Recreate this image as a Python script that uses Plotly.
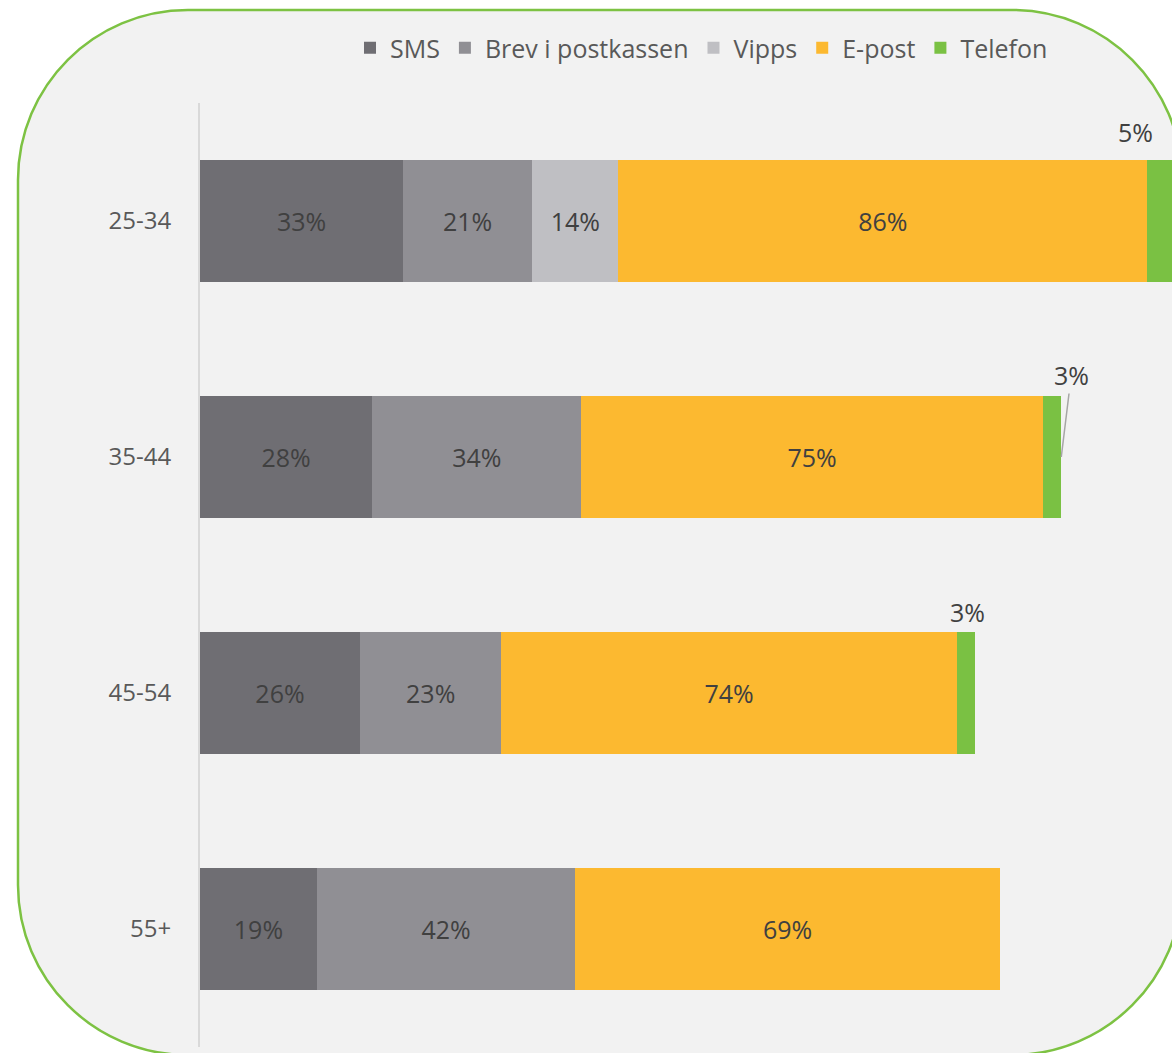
import plotly.graph_objects as go

# ---- data ----
age_groups = ["25-34", "35-44", "45-54", "55+"]
series_names = ["SMS", "Brev i postkassen", "Vipps", "E-post", "Telefon"]
sms = [33, 28, 26, 19]
brev = [21, 34, 23, 42]
vipps = [14, None, None, None]
epost = [86, 75, 74, 69]
telefon = [5, 3, 3, None]
colors = ["#6f6e73", "#908f94", "#bfbfc3", "#fcb930", "#7ac143"]

W, H = 1172, 1053
ML, MR, MT, MB = 200, 0, 103, 6
XMAX = 158

fig = go.Figure()
all_series = [sms, brev, vipps, epost, telefon]
for name, vals, col in zip(series_names, all_series, colors):
    show_inside = name != "Telefon"
    fig.add_trace(go.Bar(
        y=age_groups, x=vals, name=name, orientation="h",
        marker=dict(color=col, line=dict(width=0)),
        text=[(f"{v}%" if (v is not None and show_inside) else "") for v in vals],
        textposition="inside", insidetextanchor="middle",
        insidetextfont=dict(color="#404040", size=25, family="Open Sans"),
        textangle=0,
        hoverinfo="x+y+name",
    ))

# labels for the small Telefon segments (outside bars)
font_lbl = dict(color="#404040", size=25, family="Open Sans")
starts = [sum(v or 0 for v in (a, b, c, d)) for a, b, c, d in zip(sms, brev, vipps, epost)]
# 25-34
fig.add_annotation(x=starts[0] + telefon[0] / 2, y=age_groups[0], text=f"{telefon[0]}%",
                   showarrow=False, font=font_lbl, xshift=-27, yshift=89)
# 35-44 with leader line
fig.add_annotation(x=starts[1] + telefon[1], y=age_groups[1], text=f"{telefon[1]}%",
                   showarrow=True, arrowhead=0, arrowwidth=1.5, arrowcolor="#a6a6a6",
                   ax=10, ay=-82, font=font_lbl, standoff=0)
# 45-54
fig.add_annotation(x=starts[2] + telefon[2] / 2, y=age_groups[2], text=f"{telefon[2]}%",
                   showarrow=False, font=font_lbl, xshift=2, yshift=81)

# rounded background panel (pixel -> paper helper)
PW, PH = W - ML - MR, H - MT - MB
def px(X):
    return (X - ML) / PW
def py(Y):
    return (H - MB - Y) / PH

L, T, R, B, RAD = 18, 10, 1182, 1055, 170
k = 0.5523 * RAD
pts = [
    ("M", [(L, T + RAD)]),
    ("C", [(L, T + RAD - k), (L + RAD - k, T), (L + RAD, T)]),
    ("L", [(R - RAD, T)]),
    ("C", [(R - RAD + k, T), (R, T + RAD - k), (R, T + RAD)]),
    ("L", [(R, B - RAD)]),
    ("C", [(R, B - RAD + k), (R - RAD + k, B), (R - RAD, B)]),
    ("L", [(L + RAD, B)]),
    ("C", [(L + RAD - k, B), (L, B - RAD + k), (L, B - RAD)]),
]
path = ""
for cmd, cps in pts:
    path += cmd + " ".join(f"{px(x):.5f},{py(y):.5f}" for x, y in cps) + " "
path += "Z"
fig.add_shape(type="path", path=path, xref="paper", yref="paper",
              fillcolor="#f2f2f2", line=dict(color="#7dc243", width=2.5), layer="below")

fig.update_layout(
    width=W, height=H,
    margin=dict(l=ML, r=MR, t=MT, b=MB, pad=0),
    barmode="stack", bargap=0.487,
    paper_bgcolor="white", plot_bgcolor="rgba(0,0,0,0)",
    font=dict(family="Open Sans", color="#595959"),
    showlegend=True,
    legend=dict(orientation="h", x=px(350), xanchor="left", y=py(48), yanchor="middle",
                font=dict(size=25, color="#595959", family="Open Sans"),
                traceorder="normal", bgcolor="rgba(0,0,0,0)"),
    xaxis=dict(range=[0, XMAX], visible=False, fixedrange=True),
    yaxis=dict(autorange="reversed", showline=True, linecolor="#d9d9d9", linewidth=2,
               showgrid=False, zeroline=False, ticks="",
               tickfont=dict(size=24, color="#595959", family="Open Sans"),
               ticklabelstandoff=22),
)

fig.write_html("out.html", config={"displayModeBar": False},
               post_script="document.body.style.margin='0';document.body.style.overflow='hidden';")
